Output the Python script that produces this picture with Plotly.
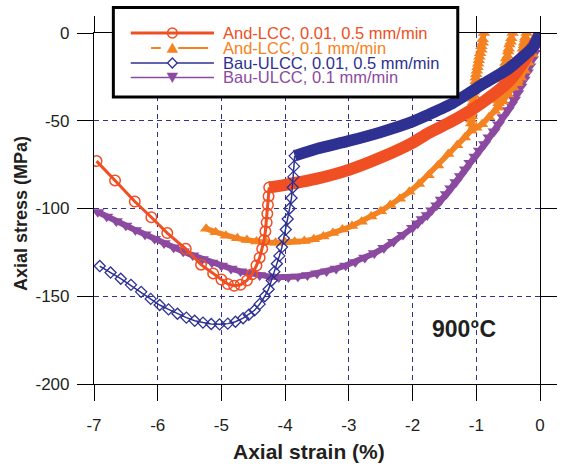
import plotly.graph_objects as go

# ---------------- data (axial strain %, axial stress MPa) ----------------
# And-LCC, 0.01, 0.5 mm/min : dense part (solid band) and sparse part (open circles)
red_band_x = [0, -0.05, -0.12, -0.25, -0.5, -0.75, -1.0, -1.37, -1.75, -2.0, -2.5, -3.0, -3.5, -4.0, -4.25]
red_band_y = [0, -3.5, -8, -16, -28, -35.5, -42, -50, -57, -62.5, -71, -78, -83, -86.5, -88]
red_x = [-4.25, -4.26, -4.27, -4.28, -4.29, -4.31, -4.33, -4.36, -4.4, -4.45, -4.52, -4.6, -4.7,
         -4.8, -4.9, -5.0, -5.13, -5.32, -5.56, -5.85, -6.1, -6.36, -6.67, -6.96]
red_y = [-88, -93, -98, -103, -108, -113, -118, -123, -128, -132.5, -137.5, -141, -143.5,
         -144, -143, -140.5, -137, -132, -123, -114, -105, -96, -84, -73]

# And-LCC, 0.1 mm/min (filled triangles, with three unload/reload spikes)
orange_x = [0, -0.03, -0.07, -0.12, -0.18, -0.24, -0.3, -0.36,
            -0.35, -0.33, -0.31, -0.29, -0.27, -0.25, -0.23, -0.21,
            -0.23, -0.25, -0.27, -0.29, -0.31, -0.33, -0.35, -0.36,
            -0.42, -0.5, -0.58, -0.66,
            -0.65, -0.63, -0.61, -0.59, -0.57, -0.55, -0.53, -0.5, -0.48, -0.45, -0.43,
            -0.46, -0.49, -0.51, -0.54, -0.56, -0.58, -0.6, -0.62, -0.64, -0.65, -0.66,
            -0.71, -0.8, -0.91, -1.0, -1.08,
            -1.08, -1.07, -1.06, -1.05, -1.04, -1.03, -1.01, -1.0, -0.98, -0.96, -0.94, -0.92, -0.9, -0.88,
            -0.9, -0.92, -0.95, -0.97, -0.99, -1.01, -1.02, -1.04, -1.05, -1.06, -1.07, -1.08, -1.08,
            -1.18, -1.3, -1.44, -1.6, -1.75, -1.9, -2.05, -2.2, -2.35, -2.5, -2.65, -2.8, -2.95,
            -3.1, -3.25, -3.4, -3.55, -3.7, -3.85, -4.0, -4.15, -4.3, -4.45, -4.6, -4.75, -4.93,
            -5.09, -5.24]
orange_y = [0, -2, -6, -12, -17, -21.5, -25.5, -28.5,
            -25, -21, -17, -13, -9, -5.5, -2.5, 0,
            -3.5, -7, -11, -15, -19, -23, -27, -28.5,
            -31, -35, -39, -42.5,
            -38.5, -34.5, -30.5, -26.5, -22.5, -18.5, -14.5, -10.5, -6.5, -3, 0,
            -5, -9, -13, -17, -21, -25, -29, -33, -37, -40, -42.5,
            -44.5, -48, -52, -54, -55.5,
            -51.5, -47.5, -43.5, -39.5, -35.5, -31.5, -27.5, -23.5, -19.5, -15.5, -11.5, -7.5, -3.5, 0,
            -5.5, -9.5, -13.5, -17.5, -21.5, -25.5, -29.5, -33.5, -37.5, -41.5, -45.5, -49.5, -55.5,
            -59.5, -64, -69, -75.5, -81, -86, -90.5, -94.5, -98, -101.5, -104.5, -107.5, -110,
            -112, -114, -116, -117.5, -118.5, -119, -119.3, -119.5, -119.3, -118.8, -118, -117, -115.5,
            -113.5, -111.5]

# Bau-ULCC, 0.01, 0.5 mm/min : dense part (solid band) and open diamonds
blue_band_x = [0, -0.05, -0.12, -0.35, -0.5, -0.87, -1.0, -1.37, -1.75, -2.0, -2.5, -3.0, -3.5, -3.85]
blue_band_y = [0, -4, -8.5, -16, -20.5, -28.5, -31.5, -40, -46.5, -50.5, -56.5, -61.5, -66, -70]
blue_x = [-3.85, -3.86, -3.87, -3.88, -3.9, -3.93, -3.96, -3.99, -4.02, -4.05, -4.09, -4.13, -4.17,
          -4.21, -4.26, -4.32, -4.4, -4.48, -4.57, -4.66, -4.78, -4.9, -5.03, -5.16, -5.29, -5.42,
          -5.55, -5.69, -5.83, -5.97, -6.11, -6.26, -6.42, -6.58, -6.74, -6.91]
blue_y = [-70, -76, -82, -88, -94, -100, -106, -112, -117, -122, -127, -131.5, -136,
          -141, -146, -150, -154.5, -158, -160.5, -162.5, -164.5, -165.6, -166, -165.8, -165, -164,
          -162.2, -160, -157.5, -155, -151.5, -147.5, -143.5, -140, -136.5, -132.8]

# Bau-ULCC, 0.1 mm/min (filled down-triangles)
purple_x = [0, -0.02, -0.05, -0.085, -0.12, -0.16, -0.2, -0.25, -0.3, -0.35, -0.4, -0.45, -0.5,
            -0.58, -0.65, -0.72, -0.8, -0.87, -0.95, -1.02, -1.1, -1.17, -1.25, -1.32, -1.4,
            -1.47, -1.55, -1.62, -1.7, -1.77, -1.85, -1.92, -2.0, -2.15, -2.3, -2.45, -2.6,
            -2.75, -2.9, -3.05, -3.2, -3.35, -3.5, -3.65, -3.8, -3.95, -4.1, -4.25, -4.4,
            -4.55, -4.7, -4.85, -5.0, -5.15, -5.3, -5.45, -5.6, -5.75, -5.9, -6.05, -6.2,
            -6.35, -6.5, -6.65, -6.8, -6.94]
purple_y = [0, -3.5, -7.5, -11.3, -15, -19, -22.5, -26.5, -30.5, -34.3, -38, -41, -44,
            -48, -52, -56, -59.5, -63.3, -67, -70.5, -74, -77.7, -81.5, -85, -88.5,
            -91.8, -95, -98.2, -101, -103.8, -106, -108.5, -111, -115, -119, -122.5, -125.5,
            -128, -130.5, -132.5, -134.3, -135.8, -137, -138, -138.8, -139.2, -139.2, -138.8, -138,
            -137, -135.8, -134.3, -132.6, -130.8, -128.8, -126.7, -124.5, -122.2, -119.8, -117.3, -114.8,
            -112.3, -109.7, -107.2, -104.6, -102]

series_names = ["And-LCC, 0.01, 0.5 mm/min", "And-LCC, 0.1 mm/min",
                "Bau-ULCC, 0.01, 0.5 mm/min", "Bau-ULCC, 0.1 mm/min"]
x_ticks = [-7, -6, -5, -4, -3, -2, -1, 0]
y_ticks = [0, -50, -100, -150, -200]

# ---------------- style ----------------
RED = "#F04E23"
ORANGE = "#F58220"
BLUE = "#2E3192"
PURPLE = "#8B4AA0"
TXT = "#231F20"
FONT = "Liberation Sans, Arial, sans-serif"

W, H = 569, 470
ML, MR, MT, MB = 94, 14, 33, 86
PW, PH = W - ML - MR, H - MT - MB


def fx(p):
    return (p - ML) / PW


def fy(p):
    return (H - MB - p) / PH


fig = go.Figure()

fig.add_trace(go.Scatter(x=purple_x, y=purple_y, mode="lines+markers",
                         line=dict(color=PURPLE, width=6),
                         marker=dict(symbol="triangle-down", size=11.5, color=PURPLE, line=dict(width=0)),
                         showlegend=False, hoverinfo="skip"))
fig.add_trace(go.Scatter(x=orange_x, y=orange_y, mode="lines+markers",
                         line=dict(color=ORANGE, width=5.5),
                         marker=dict(symbol="triangle-up", size=11, color=ORANGE, line=dict(width=0)),
                         showlegend=False, hoverinfo="skip"))
fig.add_trace(go.Scatter(x=red_band_x, y=red_band_y, mode="lines",
                         line=dict(color=RED, width=12, shape="spline", smoothing=0.6),
                         showlegend=False, hoverinfo="skip"))
fig.add_trace(go.Scatter(x=red_x, y=red_y, mode="lines+markers",
                         line=dict(color=RED, width=3),
                         marker=dict(symbol="circle-open", size=10.5, color=RED, line=dict(width=1.5, color=RED)),
                         showlegend=False, hoverinfo="skip"))
fig.add_trace(go.Scatter(x=blue_band_x, y=blue_band_y, mode="lines",
                         line=dict(color=BLUE, width=11.5, shape="spline", smoothing=0.6),
                         showlegend=False, hoverinfo="skip"))
fig.add_trace(go.Scatter(x=blue_x, y=blue_y, mode="lines+markers",
                         line=dict(color=BLUE, width=1.5),
                         marker=dict(symbol="diamond-open", size=8.5, color=BLUE, line=dict(width=1.3, color=BLUE)),
                         showlegend=False, hoverinfo="skip"))

axis_common = dict(showline=True, linecolor="black", linewidth=1.2, mirror="ticks",
                   ticks="outside", ticklen=16, tickwidth=1.3, tickcolor="black",
                   showgrid=True, gridcolor=BLUE, gridwidth=1.2, griddash="5px,4px",
                   zeroline=False, tickfont=dict(family=FONT, size=17, color=TXT))

fig.update_xaxes(range=[-7, 0], tickmode="array", tickvals=x_ticks,
                 ticktext=[str(v) for v in x_ticks], ticklabelstandoff=9, **axis_common)
fig.update_yaxes(range=[-200, 0], tickmode="array", tickvals=y_ticks,
                 ticktext=[str(v) for v in y_ticks], ticklabelstandoff=4, **axis_common)

# ---------------- manual legend ----------------
shapes = []
shapes.append(dict(type="rect", xref="paper", yref="paper", x0=fx(114), x1=fx(470), y0=fy(97), y1=fy(7.5),
                   line=dict(color="black", width=3), fillcolor="white", layer="above"))
rows = [33, 48, 63, 77.5]
colors = [RED, ORANGE, BLUE, PURPLE]
shapes.append(dict(type="line", xref="paper", yref="paper", x0=fx(132), x1=fx(218), y0=fy(rows[0]), y1=fy(rows[0]),
                   line=dict(color=RED, width=3), layer="above"))
shapes.append(dict(type="line", xref="paper", yref="paper", x0=fx(153), x1=fx(163), y0=fy(rows[1]), y1=fy(rows[1]),
                   line=dict(color=ORANGE, width=2), layer="above"))
shapes.append(dict(type="line", xref="paper", yref="paper", x0=fx(181), x1=fx(212), y0=fy(rows[1]), y1=fy(rows[1]),
                   line=dict(color=ORANGE, width=2), layer="above"))
shapes.append(dict(type="line", xref="paper", yref="paper", x0=fx(132), x1=fx(218), y0=fy(rows[2]), y1=fy(rows[2]),
                   line=dict(color=BLUE, width=1.5), layer="above"))
shapes.append(dict(type="line", xref="paper", yref="paper", x0=fx(132), x1=fx(218), y0=fy(rows[3]), y1=fy(rows[3]),
                   line=dict(color=PURPLE, width=1.5), layer="above"))
cx = 175
shapes.append(dict(type="circle", xref="paper", yref="paper", x0=fx(cx - 5), x1=fx(cx + 5),
                   y0=fy(rows[0] + 5), y1=fy(rows[0] - 5), line=dict(color=RED, width=1.5),
                   fillcolor="rgba(0,0,0,0)", layer="above"))


def poly(pts):
    return "M" + " L".join(f"{fx(a):.5f},{fy(b):.5f}" for a, b in pts) + " Z"


shapes.append(dict(type="path", xref="paper", yref="paper",
                   path=poly([(cx - 5.5, rows[1] + 4.5), (cx + 5.5, rows[1] + 4.5), (cx, rows[1] - 5)]),
                   fillcolor=ORANGE, line=dict(color=ORANGE, width=0.5), layer="above"))
shapes.append(dict(type="path", xref="paper", yref="paper",
                   path=poly([(cx - 5, rows[2]), (cx, rows[2] - 5), (cx + 5, rows[2]), (cx, rows[2] + 5)]),
                   fillcolor="white", line=dict(color=BLUE, width=1.3), layer="above"))
shapes.append(dict(type="path", xref="paper", yref="paper",
                   path=poly([(cx - 5.5, rows[3] - 4.5), (cx + 5.5, rows[3] - 4.5), (cx, rows[3] + 5)]),
                   fillcolor=PURPLE, line=dict(color=PURPLE, width=0.5), layer="above"))

annotations = []
for name, c, r in zip(series_names, colors, rows):
    annotations.append(dict(xref="paper", yref="paper", x=fx(226), y=fy(r), text=name, showarrow=False,
                            xanchor="left", yanchor="middle", borderpad=0,
                            font=dict(family=FONT, size=16.5, color=c)))

annotations.append(dict(x=-1.2, y=-168.5, xref="x", yref="y", text="<b>900°C</b>", showarrow=False,
                        xanchor="center", yanchor="middle", font=dict(family=FONT, size=23, color=TXT)))
annotations.append(dict(xref="paper", yref="paper", x=fx(316), y=fy(452), text="<b>Axial strain (%)</b>",
                        showarrow=False, xanchor="center", yanchor="middle",
                        font=dict(family=FONT, size=21, color=TXT)))
annotations.append(dict(xref="paper", yref="paper", x=fx(18.5), y=fy(213), text="<b>Axial stress (MPa)</b>",
                        showarrow=False, xanchor="center", yanchor="middle", textangle=-90,
                        font=dict(family=FONT, size=18, color=TXT)))

fig.update_layout(width=W, height=H, margin=dict(l=ML, r=MR, t=MT, b=MB),
                  paper_bgcolor="white", plot_bgcolor="white", showlegend=False,
                  shapes=shapes, annotations=annotations)

fig.write_html("out.html")
